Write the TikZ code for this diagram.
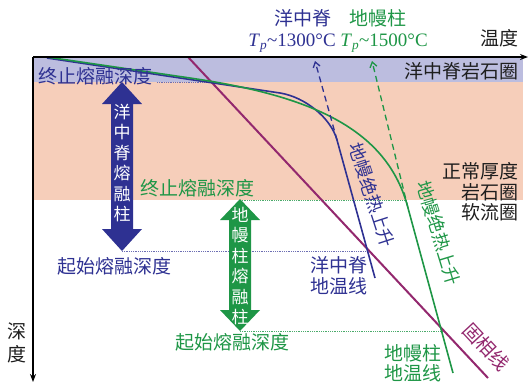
\documentclass[tikz,border=0pt]{standalone}
\usepackage{fontspec}
\setmainfont{Liberation Serif}
\newfontfamily\cjk{Noto Sans CJK SC}
\usetikzlibrary{arrows.meta}
\definecolor{dblue}{RGB}{46,49,146}
\definecolor{dgreen}{RGB}{30,150,70}
\definecolor{dpurple}{RGB}{147,40,110}
\definecolor{bandblue}{RGB}{188,189,223}
\definecolor{bandsalmon}{RGB}{246,206,186}
\definecolor{txtgray}{RGB}{30,30,30}
\begin{document}
\begin{tikzpicture}[x=1pt,y=-1pt,
  lab/.style={font=\cjk\fontsize{19}{21}\selectfont, inner sep=0pt},
  tp/.style={font=\fontsize{19}{21}\selectfont, inner sep=0pt},
  vlab/.style={font=\cjk\fontsize{17}{20.5}\selectfont, inner sep=0pt, text=white, align=center},
  geo/.style={line width=1.6pt},
  dotln/.style={densely dotted, line width=0.8pt},
  dashln/.style={dash pattern=on 6pt off 4pt, line width=1.3pt, -{Straight Barb[length=5pt,width=7pt]}},
  axis/.style={line width=1.4pt, -{Stealth[length=8pt,width=6pt]}}
]
\useasboundingbox (0,0) rectangle (529,384);
% bands
\fill[bandblue] (33,57) rectangle (523,82);
\fill[bandsalmon] (33,82) rectangle (523,200);
% named points
\coordinate (o) at (33,57);
\coordinate (xend) at (528,57);
\coordinate (yend) at (33,382);
\coordinate (bstop) at (157,82);
\coordinate (bstopgeo) at (214,82);
\coordinate (gstop) at (240,200);
\coordinate (gstopgeo) at (406,200);
\coordinate (bstart) at (122,251);
\coordinate (bstartgeo) at (367,251);
\coordinate (gstart) at (240,331);
\coordinate (gstartgeo) at (442,331);
\coordinate (bjoin) at (337,140);
\coordinate (btp) at (315,61);
\coordinate (gjoin) at (408,208);
\coordinate (gtp) at (372,61);
% dotted depth lines
\draw[dotln, dblue!70] (bstop) -- (bstopgeo);
\draw[dotln, dgreen!80] (gstop) -- (gstopgeo);
\draw[dotln, dblue!70] (bstart) -- (bstartgeo);
\draw[dotln, dgreen!80] (gstart) -- (gstartgeo);
% solidus
\draw[line width=2pt, dpurple] (188,57) -- (488,378);
% geotherms
\draw[geo, dblue] (47,58) -- (280,93) .. controls (305,97) and (331,118) .. (bjoin) -- (375,278);
\draw[geo, dgreen] (47,57) -- (190,78) .. controls (310,95.6) and (387.2,128) .. (gjoin) -- (453,373);
% dashed adiabat extrapolations
\draw[dashln, dblue] (bjoin) -- (btp);
\draw[dashln, dgreen] (gjoin) -- (gtp);
% fat double arrows
\fill[dblue] (122,82) -- (142,104) -- (133,104) -- (133,229) -- (142,229) -- (122,251)
  -- (102,229) -- (111,229) -- (111,104) -- (102,104) -- cycle;
\fill[dgreen] (240,199) -- (260,220) -- (251,220) -- (251,310) -- (260,310) -- (240,331)
  -- (220,310) -- (229,310) -- (229,220) -- (220,220) -- cycle;
\node[vlab] (bcol) at (122,163) {洋\\中\\脊\\熔\\融\\柱};
\node[vlab] (gcol) at (240,266) {地\\幔\\柱\\熔\\融\\柱};
% axes
\draw[axis] (o) -- (xend);
\draw[axis] (o) -- (yend);
% labels
\node[lab, text=dblue] (mor) at (303,18) {洋中脊};
\node[lab, text=dgreen] (plume) at (378,18) {地幔柱};
\node[tp, text=dblue] (tp1) at (292,43) {\textit{T}\textsubscript{\textit{p}}\textasciitilde1300°C};
\node[tp, text=dgreen] (tp2) at (384,43) {\textit{T}\textsubscript{\textit{p}}\textasciitilde1500°C};
\node[lab, text=txtgray] (temp) at (499,38) {温度};
\node[lab, text=txtgray, anchor=east] (morlith) at (519,71) {洋中脊岩石圈};
\node[lab, text=txtgray, anchor=east] (norm1) at (519,171) {正常厚度};
\node[lab, text=txtgray, anchor=east] (norm2) at (519,192) {岩石圈};
\node[lab, text=txtgray, anchor=east] (asth) at (519,212) {软流圈};
\node[lab, text=dblue, anchor=west] (bstoplab) at (38,76) {终止熔融深度};
\node[lab, text=dgreen, anchor=west] (gstoplab) at (140,188) {终止熔融深度};
\node[lab, text=dblue, anchor=west] (bstartlab) at (57,266) {起始熔融深度};
\node[lab, text=dgreen, anchor=west] (gstartlab) at (175,342) {起始熔融深度};
\node[lab, text=dblue, align=center, font=\cjk\fontsize{19}{21}\selectfont] (bgeo) at (339,276) {洋中脊\\地温线};
\node[lab, text=dgreen, align=center, font=\cjk\fontsize{19}{20}\selectfont] (ggeo) at (413,363) {地幔柱\\地温线};
\node[lab, text=dpurple, rotate=-47] (sol) at (486,347) {固相线};
\node[lab, text=dblue, rotate=-72, font=\cjk\fontsize{18}{20}\selectfont] (badia) at (372,195) {地幔绝热上升};
\node[lab, text=dgreen, rotate=-73, font=\cjk\fontsize{18}{20}\selectfont] (gadia) at (439,233) {地幔绝热上升};
\node[lab, text=txtgray, align=center, font=\cjk\fontsize{19}{23}\selectfont] (depth) at (17,343) {深\\度};
\end{tikzpicture}
\end{document}
